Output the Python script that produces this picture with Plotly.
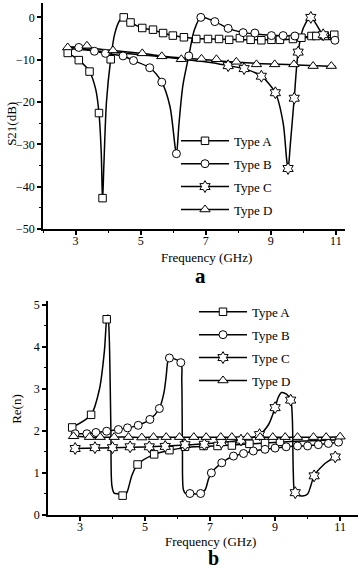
import plotly.graph_objects as go

# ---------------- Panel a : S21 (dB) ----------------
# Type A
a_A_line_f = [2.76, 3.10, 3.43, 3.62, 3.72, 3.79, 3.83, 3.87, 3.95, 4.08, 4.20, 4.35, 4.48, 4.69, 5.05, 5.38, 5.69, 5.99, 6.33, 6.71, 7.20, 7.80, 8.40, 9.00, 9.50, 9.94, 10.40, 10.97]
a_A_line_v = [-8.4, -10.1, -12.8, -17.0, -22.6, -32.0, -43.5, -35.0, -20.0, -9.9, -4.0, -0.8, 0.0, -1.2, -2.5, -3.0, -3.7, -4.3, -4.7, -5.0, -5.1, -5.2, -5.3, -5.3, -5.2, -4.9, -4.5, -4.1]
a_A_mk_f = [2.76, 3.10, 3.43, 3.72, 3.83, 4.08, 4.48, 4.69, 5.05, 5.38, 5.69, 5.99, 6.33, 6.71, 7.07, 7.41, 7.72, 8.05, 8.38, 8.71, 9.02, 9.28, 9.68, 9.94, 10.25, 10.40, 10.66, 10.95]
a_A_mk_v = [-8.4, -10.1, -12.8, -22.6, -42.7, -9.9, 0.0, -1.2, -2.5, -2.9, -3.7, -4.3, -4.7, -5.1, -5.1, -5.1, -5.3, -4.9, -5.3, -5.4, -5.3, -5.3, -5.1, -4.8, -4.4, -4.4, -4.4, -4.1]

# Type B
a_B_line_f = [2.72, 3.10, 3.58, 3.92, 4.46, 4.78, 5.28, 5.65, 5.90, 6.05, 6.10, 6.18, 6.30, 6.48, 6.65, 6.85, 7.28, 7.69, 8.15, 8.51, 9.02, 9.38, 9.74, 10.35, 10.97]
a_B_line_v = [-7.0, -7.1, -8.0, -8.5, -9.1, -10.2, -11.9, -15.3, -21.0, -30.0, -32.5, -25.0, -16.0, -9.1, -3.0, 0.0, -1.0, -2.6, -3.6, -3.9, -4.2, -4.3, -4.4, -4.7, -5.4]
a_B_mk_f = [3.10, 3.58, 3.92, 4.46, 4.78, 5.28, 5.65, 6.10, 6.48, 6.85, 7.28, 7.69, 8.15, 8.51, 9.02, 9.38, 9.74, 10.97]
a_B_mk_v = [-7.1, -8.0, -8.5, -9.1, -10.2, -11.9, -15.3, -32.2, -9.1, 0.0, -1.0, -2.6, -3.6, -3.7, -4.3, -4.3, -4.4, -5.4]

# Type C
a_C_line_f = [2.72, 3.50, 4.50, 5.50, 6.20, 7.20, 7.69, 8.18, 8.71, 9.14, 9.38, 9.48, 9.53, 9.60, 9.72, 9.84, 10.00, 10.23, 10.61, 10.97]
a_C_line_v = [-7.3, -7.8, -8.5, -9.2, -9.8, -10.7, -11.4, -12.1, -13.9, -17.8, -25.0, -33.0, -36.0, -30.0, -19.1, -8.2, -2.5, 0.0, -4.1, -5.1]
a_C_mk_f = [7.69, 8.18, 8.71, 9.14, 9.53, 9.72, 9.84, 10.23, 10.61]
a_C_mk_v = [-11.4, -12.1, -13.9, -17.8, -35.7, -19.1, -8.2, 0.0, -4.1]

# Type D
a_D_line_f = [2.72, 3.35, 4.00, 5.00, 6.00, 7.00, 8.00, 9.00, 10.00, 11.00]
a_D_line_v = [-7.0, -7.2, -7.7, -8.5, -9.4, -10.0, -10.6, -11.0, -11.3, -11.6]
a_D_mk_f = [2.76, 3.35, 4.15, 5.05, 5.65, 6.25, 6.87, 7.33, 7.94, 8.56, 9.12, 9.71, 10.30, 10.86]
a_D_mk_v = [-7.1, -6.7, -7.8, -8.5, -9.2, -9.9, -9.8, -9.9, -10.5, -11.1, -11.1, -11.1, -11.5, -11.5]

# ---------------- Panel b : Re(n) ----------------
b_A_line_f = [2.76, 3.34, 3.60, 3.75, 3.82, 3.86, 3.90, 3.95, 3.98, 4.05, 4.20, 4.35, 4.45, 4.60, 4.77, 5.28, 5.75, 6.23, 6.80, 7.67, 8.69, 9.60, 10.30, 11.00]
b_A_line_v = [2.08, 2.38, 3.00, 3.90, 4.65, 4.75, 4.20, 2.00, 0.70, 0.52, 0.50, 0.44, 0.55, 0.95, 1.20, 1.44, 1.54, 1.60, 1.63, 1.66, 1.71, 1.75, 1.77, 1.79]
b_A_mk_f = [2.76, 3.34, 3.82, 4.31, 4.77, 5.28, 5.75, 6.23, 6.80, 7.23, 7.67, 8.21, 8.69, 9.15]
b_A_mk_v = [2.08, 2.38, 4.65, 0.46, 1.20, 1.44, 1.54, 1.62, 1.64, 1.64, 1.65, 1.69, 1.71, 1.74]

b_B_line_f = [2.78, 3.21, 3.49, 3.82, 4.18, 4.46, 4.79, 5.15, 5.44, 5.58, 5.65, 5.70, 5.75, 6.10, 6.13, 6.15, 6.18, 6.25, 6.38, 6.71, 6.85, 6.95, 7.04, 7.36, 7.72, 8.03, 8.33, 8.69, 9.00, 9.34, 9.69, 10.00, 10.33, 10.64, 10.95]
b_B_line_v = [1.93, 1.93, 1.96, 1.99, 2.03, 2.07, 2.13, 2.27, 2.53, 2.90, 3.30, 3.65, 3.73, 3.62, 3.20, 1.50, 0.60, 0.51, 0.51, 0.50, 0.60, 0.85, 1.00, 1.24, 1.40, 1.46, 1.52, 1.56, 1.59, 1.62, 1.64, 1.64, 1.67, 1.70, 1.73]
b_B_mk_f = [2.85, 3.21, 3.49, 3.82, 4.18, 4.46, 4.79, 5.15, 5.44, 5.75, 6.10, 6.38, 6.71, 7.04, 7.36, 7.72, 8.03, 8.33, 8.69, 9.00, 9.34, 9.69, 10.00, 10.33, 10.64, 10.95]
b_B_mk_v = [1.93, 1.93, 1.96, 1.99, 2.03, 2.07, 2.13, 2.27, 2.53, 3.73, 3.62, 0.51, 0.51, 1.00, 1.24, 1.40, 1.46, 1.52, 1.56, 1.59, 1.62, 1.64, 1.64, 1.67, 1.70, 1.73]

b_C_line_f = [2.78, 4.00, 5.13, 6.23, 7.35, 7.95, 8.52, 8.80, 9.00, 9.10, 9.20, 9.35, 9.48, 9.53, 9.56, 9.60, 9.70, 9.85, 10.00, 10.10, 10.20, 10.50, 10.85]
b_C_line_v = [1.58, 1.60, 1.62, 1.66, 1.72, 1.78, 1.91, 2.15, 2.55, 2.80, 2.91, 2.87, 2.73, 2.30, 1.00, 0.55, 0.47, 0.45, 0.50, 0.70, 0.93, 1.20, 1.38]
b_C_mk_f = [2.85, 3.46, 4.00, 4.54, 5.13, 5.62, 6.23, 6.82, 7.35, 7.95, 8.52, 9.00, 9.48, 9.62, 10.20, 10.85]
b_C_mk_v = [1.58, 1.60, 1.60, 1.62, 1.62, 1.63, 1.67, 1.68, 1.72, 1.78, 1.91, 2.55, 2.73, 0.53, 0.93, 1.38]

b_D_line_f = [2.80, 3.29, 3.62, 4.05, 4.49, 4.90, 5.26, 5.65, 6.06, 6.50, 6.88, 7.33, 7.67, 8.15, 8.54, 8.93, 9.31, 9.69, 10.18, 10.57, 11.00]
b_D_line_v = [1.87, 1.85, 1.85, 1.85, 1.85, 1.84, 1.85, 1.85, 1.85, 1.85, 1.85, 1.85, 1.85, 1.85, 1.85, 1.85, 1.85, 1.85, 1.85, 1.85, 1.86]
b_D_mk_f = b_D_line_f
b_D_mk_v = b_D_line_v

series_names = ["Type A", "Type B", "Type C", "Type D"]
symbols = ["square", "circle", "hexagram", "triangle-up"]
sizes = [7.5, 8, 9, 9]

x_ticks = [3, 5, 7, 9, 11]
a_y_ticks = [0, -10, -20, -30, -40, -50]
b_y_ticks = [0, 1, 2, 3, 4, 5]

FONT = "Liberation Serif"
W, H = 359, 578

fig = go.Figure()

panels = [
    ("x", "y", "legend",
     [(a_A_line_f, a_A_line_v), (a_B_line_f, a_B_line_v), (a_C_line_f, a_C_line_v), (a_D_line_f, a_D_line_v)],
     [(a_A_mk_f, a_A_mk_v), (a_B_mk_f, a_B_mk_v), (a_C_mk_f, a_C_mk_v), (a_D_mk_f, a_D_mk_v)]),
    ("x2", "y2", "legend2",
     [(b_A_line_f, b_A_line_v), (b_B_line_f, b_B_line_v), (b_C_line_f, b_C_line_v), (b_D_line_f, b_D_line_v)],
     [(b_A_mk_f, b_A_mk_v), (b_B_mk_f, b_B_mk_v), (b_C_mk_f, b_C_mk_v), (b_D_mk_f, b_D_mk_v)]),
]

for xa, ya, lg, lines, marks in panels:
    for (fx, fv) in lines:
        fig.add_trace(go.Scatter(x=fx, y=fv, mode="lines", xaxis=xa, yaxis=ya,
                                 line=dict(color="black", width=1.5, shape="spline", smoothing=0.8),
                                 showlegend=False, hoverinfo="skip"))
    for i, (fx, fv) in enumerate(marks):
        fig.add_trace(go.Scatter(x=fx, y=fv, mode="markers", xaxis=xa, yaxis=ya,
                                 marker=dict(symbol=symbols[i], size=sizes[i], color="white",
                                             line=dict(color="black", width=1)),
                                 showlegend=False, hoverinfo="skip"))
    for i, name in enumerate(series_names):
        fig.add_trace(go.Scatter(x=[None], y=[None], mode="lines+markers", name=name,
                                 xaxis=xa, yaxis=ya, legend=lg, legendgroup=lg + name,
                                 line=dict(color="black", width=1.5),
                                 marker=dict(symbol=symbols[i], size=sizes[i], color="white",
                                             line=dict(color="black", width=1))))

axis_common = dict(showline=True, linecolor="black", linewidth=1.5, ticks="outside",
                   ticklen=4, tickwidth=1.5, tickcolor="black", showgrid=False, zeroline=False,
                   tickfont=dict(family=FONT, size=12, color="black"))

fig.update_layout(
    width=W, height=H, margin=dict(l=0, r=0, t=0, b=0),
    paper_bgcolor="white", plot_bgcolor="white",
    font=dict(family=FONT, size=13, color="black"),
    xaxis=dict(domain=[43 / W, 345 / W], range=[2.0, 11.28], tickvals=x_ticks, anchor="y",
               ticklabelstandoff=-4,
               minor=dict(dtick=1, tick0=0, ticks="outside", ticklen=2.5, tickwidth=1.2, tickcolor="black"),
               **axis_common),
    yaxis=dict(domain=[1 - 230 / H, 1.0], range=[-50, 3.4], tickvals=a_y_ticks, anchor="x",
               minor=dict(dtick=5, tick0=0, ticks="outside", ticklen=2.5, tickwidth=1.2, tickcolor="black"),
               **axis_common),
    xaxis2=dict(domain=[48 / W, 358 / W], range=[2.015, 11.55], tickvals=x_ticks, anchor="y2",
                ticklabelstandoff=-4,
                minor=dict(dtick=1, tick0=0, ticks="outside", ticklen=2.5, tickwidth=1.2, tickcolor="black"),
                **axis_common),
    yaxis2=dict(domain=[1 - 521 / H, 1 - 303 / H], range=[0, 5.09], tickvals=b_y_ticks, anchor="x2",
                minor=dict(dtick=0.5, tick0=0, ticks="outside", ticklen=2.5, tickwidth=1.2, tickcolor="black"),
                **axis_common),
    legend=dict(x=176 / W, y=1 - 125 / H, xanchor="left", yanchor="top", bgcolor="rgba(0,0,0,0)",
                font=dict(family=FONT, size=13, color="black"), itemwidth=48, tracegroupgap=3),
    legend2=dict(x=194 / W, y=1 - 299 / H, xanchor="left", yanchor="top", bgcolor="rgba(0,0,0,0)",
                 font=dict(family=FONT, size=13, color="black"), itemwidth=48, tracegroupgap=3),
    showlegend=True,
)

annots = [
    dict(text="S21(dB)", x=12 / W, y=1 - 123 / H, textangle=-90, size=13, yanchor="middle"),
    dict(text="Frequency (GHz)", x=207 / W, y=1 - 259 / H, size=13, yanchor="middle"),
    dict(text="<b>a</b>", x=200 / W, y=1 - 278 / H, size=21, yanchor="middle"),
    dict(text="Re(n)", x=17 / W, y=1 - 413 / H, textangle=-90, size=13, yanchor="middle"),
    dict(text="Frequency (GHz)", x=210 / W, y=1 - 548 / H, size=13, yanchor="middle"),
    dict(text="<b>b</b>", x=213 / W, y=0.0, size=20, yanchor="bottom"),
]
for a in annots:
    fig.add_annotation(xref="paper", yref="paper", showarrow=False, xanchor="center", yanchor=a["yanchor"],
                       x=a["x"], y=a["y"], text=a["text"], textangle=a.get("textangle", 0),
                       font=dict(family=FONT, color="black", size=a["size"]))

# remove the browser's default 8px body margin so the figure sits at the window origin
fig.write_html("out.html", config={"displayModeBar": False},
               post_script="document.body.style.margin='0px';")
